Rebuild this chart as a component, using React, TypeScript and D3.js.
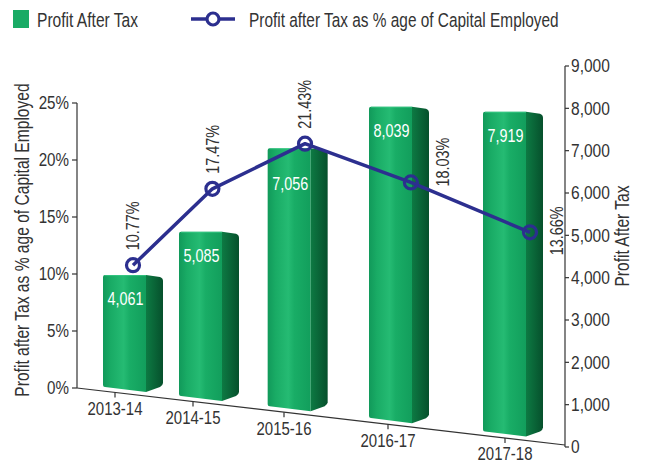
import React from 'react';
import * as d3 from 'd3';

const years = ['2013-14', '2014-15', '2015-16', '2016-17', '2017-18'];
const profitAfterTax = [4061, 5085, 7056, 8039, 7919];
const patPercent = [10.77, 17.47, 21.43, 18.03, 13.66];
const leftTicks = [0, 5, 10, 15, 20, 25];
const rightTicks = [0, 1000, 2000, 3000, 4000, 5000, 6000, 7000, 8000, 9000];
const legendBar = 'Profit After Tax';
const legendLine = 'Profit after Tax as % age of Capital Employed';
const leftTitle = 'Profit after Tax as % age of Capital Employed';
const rightTitle = 'Profit After Tax';

const W = 645;
const H = 466;
const FONT = "'Liberation Sans', Arial, sans-serif";
const TEXT = '#333333';
const LINE = '#2c2f8f';

const axisLeftX = 77;
const axisRightX = 565;
const yLeft = d3.scaleLinear().domain([0, 25]).range([388, 103]);
const yRight = d3.scaleLinear().domain([0, 9000]).range([447, 66]);
// perspective: category spacing widens toward the right
const persp = (i: number) => i + 5.5;
const depth = d3.scalePow().exponent(2).domain([persp(0), persp(4)]);
const xTick = depth.copy().range([115, 505]);
const xBar = depth.copy().range([133, 513]);
const xPoint = depth.copy().range([133, 530]);
const baseline = d3.scaleLinear().domain([axisLeftX, axisRightX]).range([yLeft(0), yRight(0) - 2]);

const fmtRight = d3.format(',');

type TProps = {
  x: number;
  y: number;
  rot?: boolean;
  anchor?: 'start' | 'middle' | 'end';
  size: number;
  narrow?: number;
  fill?: string;
  dy?: string;
  children: React.ReactNode;
};

function T({ x, y, rot, anchor = 'start', size, narrow = 0.82, fill = TEXT, dy, children }: TProps) {
  return (
    <text
      transform={`translate(${x},${y})${rot ? ' rotate(-90)' : ''} scale(${narrow},1)`}
      textAnchor={anchor}
      dy={dy}
      fontSize={size}
      fill={fill}
    >
      {children}
    </text>
  );
}

export default function App() {
  const frontW = 43;
  const sideW = 17;
  const pts = patPercent.map((v, i) => [xPoint(persp(i)), yLeft(v)] as [number, number]);
  const linePath = d3.line()(pts) || '';
  const last = patPercent.length - 1;

  return (
    <svg width={W} height={H} style={{ position: 'absolute', left: 0, top: 0, background: '#fff' }} fontFamily={FONT}>
      <defs>
        <linearGradient id="front" x1="0" x2="1" y1="0" y2="0">
          <stop offset="0%" stopColor="#11995a" />
          <stop offset="18%" stopColor="#19ab65" />
          <stop offset="48%" stopColor="#25bb73" />
          <stop offset="62%" stopColor="#19ad66" />
          <stop offset="100%" stopColor="#129e5c" />
        </linearGradient>
        <linearGradient id="side" x1="0" x2="1" y1="0" y2="0">
          <stop offset="0%" stopColor="#0d7a43" />
          <stop offset="100%" stopColor="#06502c" />
        </linearGradient>
      </defs>

      {/* legend */}
      <rect x={13} y={10} width={16} height={18} fill="#19ab65" />
      <T x={37} y={27} size={19.5} narrow={0.8}>{legendBar}</T>
      <line x1={191} x2={235} y1={19} y2={19} stroke={LINE} strokeWidth={3.5} />
      <circle cx={213} cy={19} r={6} fill="#fff" stroke={LINE} strokeWidth={3.2} />
      <T x={249} y={27} size={19.5} narrow={0.79}>{legendLine}</T>

      {/* bars */}
      {profitAfterTax.map((v, i) => {
        const xc = xBar(persp(i));
        const xl = xc - (frontW + sideW) / 2;
        const xf = xl + frontW;
        const xr = xf + sideW;
        const yT = yRight(v);
        const bl = baseline(xl) - 4;
        const bf = baseline(xf) - 4;
        const front = `M${xl},${yT + 2} Q${xl},${yT} ${xl + 2},${yT} L${xf},${yT} L${xf},${bf} L${xl + 2},${bl} Q${xl},${bl} ${xl},${bl - 2} Z`;
        const side = `M${xf},${yT} L${xr - 3},${yT + 2} Q${xr},${yT + 3} ${xr},${yT + 6} L${xr},${bf - 9} Q${xr},${bf - 7} ${xr - 3},${bf - 5} L${xf},${bf} Z`;
        const py = pts[i][1];
        const nearTop = py > yT - 8 && py < yT + 30;
        const ly = nearTop ? py + 40 : yT + 24;
        return (
          <g key={years[i]}>
            <path d={front} fill="url(#front)" />
            <path d={side} fill="url(#side)" />
            <line x1={xl + 2} x2={xf} y1={yT + 0.5} y2={yT + 0.5} stroke="#3fcf8c" strokeWidth={1} opacity={0.7} />
            <T x={xl + frontW / 2 + 1} y={ly} dy="0.35em" anchor="middle" size={18} narrow={0.8} fill="#ffffff">
              {fmtRight(v)}
            </T>
          </g>
        );
      })}

      {/* axes */}
      <line x1={axisLeftX} x2={axisLeftX} y1={yLeft(25)} y2={yLeft(0)} stroke={TEXT} strokeWidth={1.2} />
      {leftTicks.map((t) => (
        <g key={'l' + t}>
          <line x1={axisLeftX - 5} x2={axisLeftX} y1={yLeft(t)} y2={yLeft(t)} stroke={TEXT} strokeWidth={1.2} />
          <T x={axisLeftX - 8} y={yLeft(t)} dy="0.35em" anchor="end" size={18.5}>{t + '%'}</T>
        </g>
      ))}
      <line x1={axisRightX} x2={axisRightX} y1={yRight(9000)} y2={yRight(0)} stroke={TEXT} strokeWidth={1.2} />
      {rightTicks.map((t) => (
        <g key={'r' + t}>
          <line x1={axisRightX} x2={axisRightX + 4} y1={yRight(t)} y2={yRight(t)} stroke={TEXT} strokeWidth={1.2} />
          <T x={axisRightX + 6} y={yRight(t)} dy="0.35em" anchor="start" size={18.5} narrow={0.84}>{fmtRight(t)}</T>
        </g>
      ))}
      <line x1={axisLeftX} x2={axisRightX} y1={baseline(axisLeftX)} y2={baseline(axisRightX)} stroke={TEXT} strokeWidth={1.2} />
      {years.map((y, i) => {
        const x = xTick(persp(i));
        const b = baseline(x);
        return (
          <g key={y}>
            <line x1={x} x2={x} y1={b} y2={b + 5} stroke={TEXT} strokeWidth={1.2} />
            <T x={x} y={b + 16} dy="0.35em" anchor="middle" size={18.5} narrow={0.81}>{y}</T>
          </g>
        );
      })}

      {/* axis titles */}
      <T x={22} y={240} rot dy="0.35em" anchor="middle" size={19.5} narrow={0.8}>{leftTitle}</T>
      <T x={622} y={236} rot dy="0.35em" anchor="middle" size={19.5} narrow={0.8}>{rightTitle}</T>

      {/* line series */}
      <path d={linePath} fill="none" stroke={LINE} strokeWidth={3.5} strokeLinejoin="round" />
      {pts.map(([x, y], i) => (
        <circle key={'c' + i} cx={x} cy={y} r={6.5} fill="none" stroke={LINE} strokeWidth={3.2} />
      ))}
      {pts.map(([x, y], i) => {
        const falling = i > 0 && patPercent[i] < patPercent[i - 1];
        const tx = falling ? x + (i === last ? 27 : 32) : x;
        const ty = falling ? y + (i === last ? 23 : 4) : y - 15;
        return (
          <T key={'p' + i} x={tx} y={ty} rot dy="0.35em" anchor="start" size={18} narrow={0.8}>
            {patPercent[i].toFixed(2) + '%'}
          </T>
        );
      })}
    </svg>
  );
}
